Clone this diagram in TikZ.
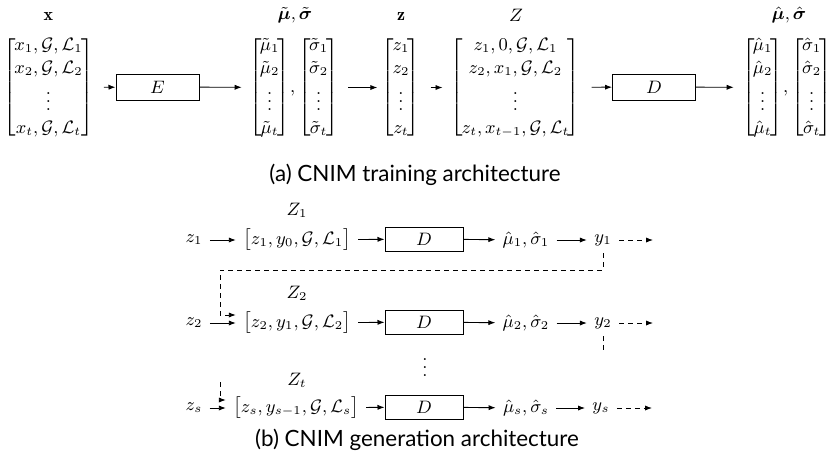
\documentclass[tikz,border=0pt]{standalone}
\usepackage{amsmath}
\usepackage{bm}
\usepackage{fontspec}
\newfontfamily\capfont{Lato}
\newcommand{\mybmat}[1]{\left[\mkern-1.5mu\begin{matrix}#1\end{matrix}\mkern-1.5mu\right]}
\usetikzlibrary{arrows.meta}
\tikzset{
  arr/.style={-{Latex[length=3.5pt,width=2.6pt]}, line width=0.45pt},
  darr/.style={-{Latex[length=3.5pt,width=2.6pt]}, line width=0.45pt, dash pattern=on 2.5pt off 2pt},
  dline/.style={line width=0.45pt, dash pattern=on 2.5pt off 2pt},
  mat/.style={inner sep=0pt},
  lbl/.style={inner sep=0pt},
  bigbox/.style={draw, line width=0.5pt, minimum width=41.5pt, minimum height=13pt, inner sep=0pt},
  smallbox/.style={draw, line width=0.5pt, minimum width=39pt, minimum height=12pt, inner sep=0pt},
  item/.style={inner sep=3.5pt},
  captext/.style={inner sep=0pt, font=\capfont\fontsize{11.2}{13}\selectfont}
}
\begin{document}
\begin{tikzpicture}[x=0.5pt, y=-0.5pt, font=\fontsize{9}{11.5}\selectfont]
\useasboundingbox (0,0) rectangle (828,473);
% ---------- (a) training ----------
\node[mat] (xm) at (48.5,87.5) {$\mybmat{x_1,\mathcal{G},\mathcal{L}_1\\ x_2,\mathcal{G},\mathcal{L}_2\\ \vdots\\ x_t,\mathcal{G},\mathcal{L}_t}$};
\node[lbl] (xl) at (48.5,16) {$\mathbf{x}$};
\node[bigbox] (E) at (157.5,87) {$E$};
\node[mat] (mt) at (294,87.5) {$\mybmat{\tilde\mu_1\\ \tilde\mu_2\\ \vdots\\ \tilde\mu_t}\mkern-3mu,\mybmat{\tilde\sigma_1\\ \tilde\sigma_2\\ \vdots\\ \tilde\sigma_t}$};
\node[lbl] (mtl) at (295,15) {$\bm{\tilde\mu}, \bm{\tilde\sigma}$};
\node[mat] (zm) at (401,87.5) {$\mybmat{z_1\\ z_2\\ \vdots\\ z_t}$};
\node[lbl] (zl) at (401,16) {$\mathbf{z}$};
\node[mat] (Zm) at (515.5,87.5) {$\mybmat{z_1,0,\mathcal{G},\mathcal{L}_1\\ z_2,x_1,\mathcal{G},\mathcal{L}_2\\ \vdots\\ z_t,x_{t-1},\mathcal{G},\mathcal{L}_t}$};
\node[lbl] (Zl) at (516,15) {$Z$};
\node[bigbox] (D) at (654,87) {$D$};
\node[mat] (mh) at (787,87.5) {$\mybmat{\hat\mu_1\\ \hat\mu_2\\ \vdots\\ \hat\mu_t}\mkern-3mu,\mybmat{\hat\sigma_1\\ \hat\sigma_2\\ \vdots\\ \hat\sigma_t}$};
\node[lbl] (mhl) at (789,15) {$\bm{\hat\mu}, \bm{\hat\sigma}$};
\draw[arr, shorten <=5pt] (xm) -- (E);
\draw[arr, shorten >=3.5pt] (E) -- (mt);
\draw[arr, shorten <=4.5pt, shorten >=2pt] (mt) -- (zm);
\draw[arr, shorten <=5pt, shorten >=4pt] (zm) -- (Zm);
\draw[arr, shorten <=5.5pt] (Zm) -- (D);
\draw[arr, shorten >=4pt] (D) -- (mh);
\node[captext] (capa) at (415,175) {(a) CNIM training architecture};
% ---------- (b) generation ----------
% row 1
\node[item] (z1) at (194,240) {$z_1$};
\node[item] (in1) at (297,240) {$\bigl[z_1,y_0,\mathcal{G},\mathcal{L}_1\bigr]$};
\node[lbl] (Z1) at (297,210) {$Z_1$};
\node[smallbox] (D1) at (424,239) {$D$};
\node[item] (o1) at (526,240) {$\hat\mu_1,\hat\sigma_1$};
\node[item] (y1) at (603,240) {$y_1$};
\coordinate (e1) at (653,240);
\draw[arr] (z1) -- (in1);
\draw[arr] (in1) -- (D1);
\draw[arr] (D1) -- (o1);
\draw[arr] (o1) -- (y1);
\draw[darr] (y1) -- (e1);
% row 2
\node[item] (z2) at (194,323) {$z_2$};
\node[item] (in2) at (297,323) {$\bigl[z_2,y_1,\mathcal{G},\mathcal{L}_2\bigr]$};
\node[lbl] (Z2) at (297,293) {$Z_2$};
\node[smallbox] (D2) at (424,322) {$D$};
\node[item] (o2) at (526,323) {$\hat\mu_2,\hat\sigma_2$};
\node[item] (y2) at (603,323) {$y_2$};
\coordinate (e2) at (653,323);
\draw[arr] (z2) -- (in2);
\draw[arr] (in2) -- (D2);
\draw[arr] (D2) -- (o2);
\draw[arr] (o2) -- (y2);
\draw[darr] (y2) -- (e2);
% feedback 1 -> 2
\coordinate (f1) at (220,270);
\draw[darr] (y1.south) |- (f1) |- ([yshift=4pt]in2.west);
% vdots
\node[lbl] (vd) at (425,362) {$\vdots$};
% feedback 2 -> s
\coordinate (f2) at (603,352);
\draw[dline] (y2.south) -- (f2);
\coordinate (f3) at (220,382);
% row s
\node[item] (zs) at (194,408) {$z_s$};
\node[item] (ins) at (296,408) {$\bigl[z_s,y_{s-1},\mathcal{G},\mathcal{L}_s\bigr]$};
\node[lbl] (Zt) at (297,380) {$Z_t$};
\node[smallbox] (Ds) at (424,407) {$D$};
\node[item] (os) at (526,408) {$\hat\mu_s,\hat\sigma_s$};
\node[item] (ys) at (601,408) {$y_s$};
\coordinate (es) at (652,408);
\draw[arr] (zs) -- (ins);
\draw[arr] (ins) -- (Ds);
\draw[arr] (Ds) -- (os);
\draw[arr] (os) -- (ys);
\draw[darr] (ys) -- (es);
\draw[darr] (f3) |- ([yshift=4pt]ins.west);
\node[captext] (capb) at (417,440) {(b) CNIM generation architecture};
\end{tikzpicture}
\end{document}
